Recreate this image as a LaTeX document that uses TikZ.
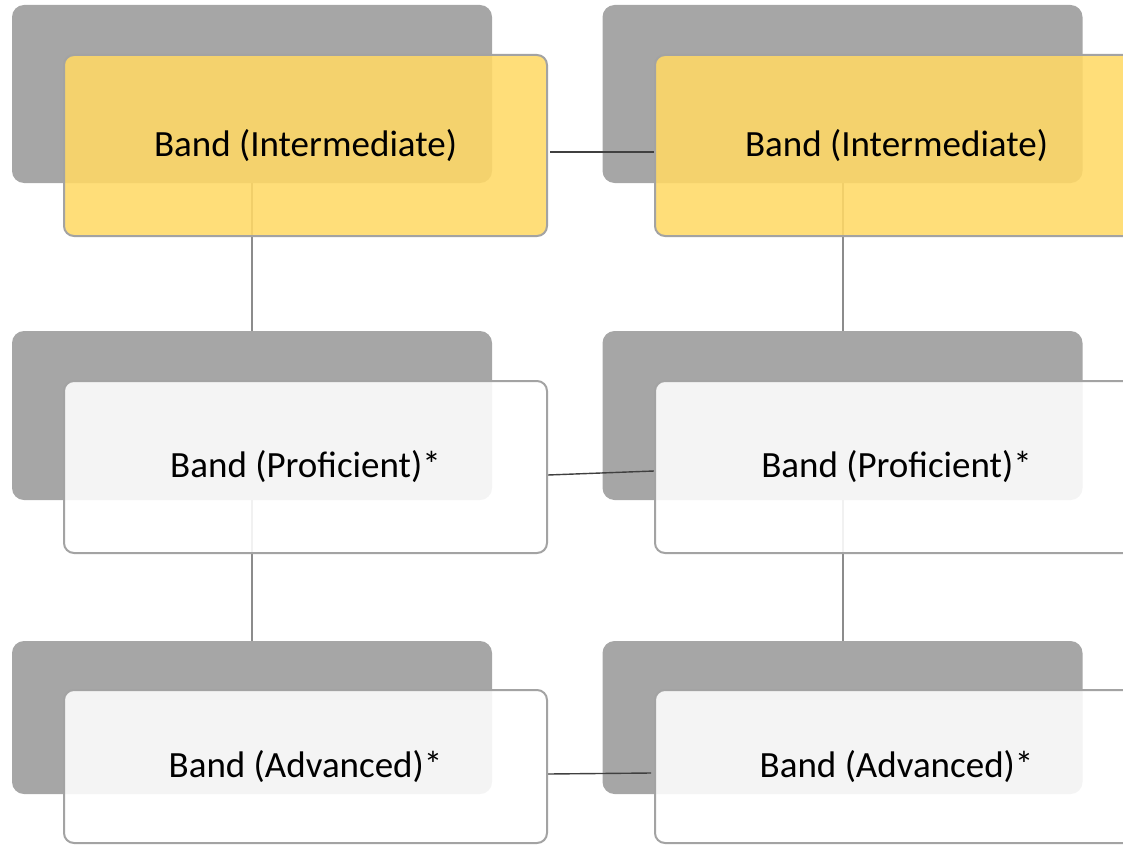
\documentclass[tikz,border=0pt]{standalone}
\usepackage{fontspec}
\setmainfont{Carlito}
\usepackage{xcolor}
\usetikzlibrary{shapes.geometric, backgrounds}
\definecolor{backgray}{HTML}{A6A6A6}
\definecolor{edgegray}{HTML}{A3A3A3}
\definecolor{linegray}{HTML}{8C8C8C}
\definecolor{darkline}{HTML}{404040}
\definecolor{bandyellow}{HTML}{FFD966}
\tikzstyle{back} = [rectangle, rounded corners=12pt, fill=backgray, minimum width=480pt]
\tikzstyle{front} = [rectangle, rounded corners=10pt, draw=edgegray, line width=2pt, fill=white, fill opacity=0.88, text opacity=1, minimum width=483pt, text centered, font=\fontsize{37}{44}\selectfont]
\tikzstyle{link} = [draw=linegray, line width=2pt]
\tikzstyle{bridge} = [draw=darkline, line width=1.4pt]

\begin{document}
\begin{tikzpicture}[x=1pt, y=-1pt]
\useasboundingbox (0,0) rectangle (1123,845);

% Back boxes
\begin{scope}[on background layer]
\node (gl1) [back, minimum height=178pt] at (252,94) {};
\node (gl2) [back, minimum height=169pt] at (252,415.5) {};
\node (gl3) [back, minimum height=153pt] at (252,717.5) {};
\node (gr1) [back, minimum height=178pt] at (842.5,94) {};
\node (gr2) [back, minimum height=169pt] at (842.5,415.5) {};
\node (gr3) [back, minimum height=153pt] at (842.5,717.5) {};
\end{scope}

% Front boxes
\node (fl1) [front, fill=bandyellow, minimum height=181pt] at (305.5,145.5) {Band (Intermediate)};
\node (fl2) [front, minimum height=172pt] at (305.5,467) {Band (Proficient)*};
\node (fl3) [front, minimum height=153pt] at (305.5,766.5) {Band (Advanced)*};
\node (fr1) [front, fill=bandyellow, minimum height=181pt] at (896.5,145.5) {Band (Intermediate)};
\node (fr2) [front, minimum height=172pt] at (896.5,467) {Band (Proficient)*};
\node (fr3) [front, minimum height=153pt] at (896.5,766.5) {Band (Advanced)*};

% Connectors
\begin{scope}[on background layer]
\draw [link] (gl1.south) -- (gl2.north);
\draw [link] (gl2.south) -- (gl3.north);
\draw [link] (gr1.south) -- (gr2.north);
\draw [link] (gr2.south) -- (gr3.north);
\draw [bridge] ([xshift=2pt, yshift=-6.5pt]fl1.east) -- ([yshift=-6.5pt]fr1.west);
\draw [bridge] ([yshift=-8pt]fl2.east) -- ([yshift=-4pt]fr2.west);
\draw [bridge] ([yshift=-7.5pt]fl3.east) -- ([xshift=-3pt, yshift=-6.5pt]fr3.west);
\end{scope}

\end{tikzpicture}
\end{document}
